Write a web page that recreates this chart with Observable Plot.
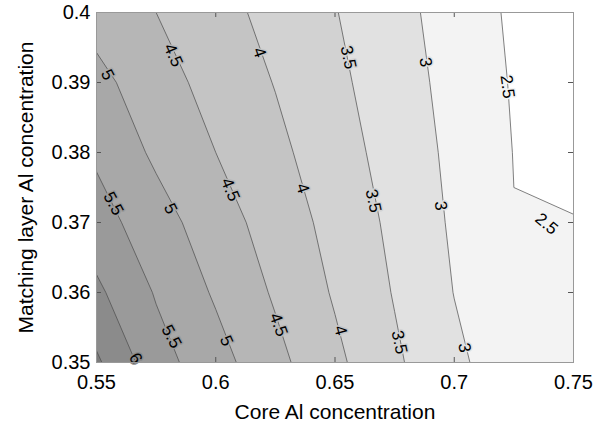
<!DOCTYPE html>
<html>
<head>
<meta charset="utf-8">
<script src="https://cdn.jsdelivr.net/npm/d3@7"></script>
<script src="https://cdn.jsdelivr.net/npm/@observablehq/plot@0.6"></script>
<style>
  html, body { margin: 0; padding: 0; background: white; }
  #chart { width: 605px; height: 424px; }
</style>
</head>
<body>
<div id="chart"></div>
<script>
// Grid sample positions (Core Al concentration = x, Matching layer Al concentration = y)
const xCols = [0.55, 0.575, 0.6, 0.625, 0.65, 0.675, 0.7, 0.725, 0.75];
const yRows = [0.35, 0.36, 0.37, 0.38, 0.39, 0.40];

// Values, one row per y (bottom to top)
const z035 = [6.58, 5.70, 5.19, 4.64, 4.11, 3.58, 3.10, 2.72, 2.60];
const z036 = [6.10, 5.46, 4.94, 4.44, 3.95, 3.47, 2.99, 2.72, 2.58];
const z037 = [5.71, 5.21, 4.73, 4.28, 3.84, 3.39, 2.93, 2.51, 2.52];
const z038 = [5.42, 4.91, 4.50, 4.12, 3.72, 3.30, 2.89, 2.49, 2.35];
const z039 = [5.15, 4.70, 4.33, 3.98, 3.61, 3.23, 2.84, 2.46, 2.30];
const z040 = [4.80, 4.50, 4.17, 3.85, 3.52, 3.16, 2.79, 2.42, 2.22];

// Contour levels and band shades
const levels = [2.5, 3, 3.5, 4, 4.5, 5, 5.5, 6, 6.5];
const bandColors = ["#f3f3f3", "#e1e1e1", "#d2d2d2", "#c4c4c4", "#b6b6b6", "#a8a8a8", "#9a9a9a", "#8b8b8b", "#7b7b7b"];

// Contour labels
const labelLevel = [4.5, 4, 3.5, 3, 2.5, 5, 5.5, 5, 4.5, 4, 3.5, 3, 2.5, 6, 5.5, 5, 4.5, 4, 3.5, 3];
const labelX = [0.5822, 0.6183, 0.6556, 0.6880, 0.7223, 0.5546, 0.5571, 0.5810, 0.6061, 0.6364, 0.6661, 0.6943, 0.7387, 0.5664, 0.5814, 0.6045, 0.6263, 0.6523, 0.6770, 0.7043];
const labelY = [0.3939, 0.3943, 0.3936, 0.3929, 0.3894, 0.3911, 0.3727, 0.3720, 0.3747, 0.3749, 0.3731, 0.3724, 0.3698, 0.3506, 0.3537, 0.3531, 0.3554, 0.3546, 0.3529, 0.3521];
const labelAngle = [66, 71, 78, 82, 82, 63, 62, 64, 68, 72, 78, 83, 40, 60, 62, 66, 70, 75, 78, 80];

// Axis ticks
const xTicks = [0.55, 0.6, 0.65, 0.7, 0.75];
const xTickLabels = ["0.55", "0.6", "0.65", "0.7", "0.75"];
const yTicks = [0.35, 0.36, 0.37, 0.38, 0.39, 0.4];
const yTickLabels = ["0.35", "0.36", "0.37", "0.38", "0.39", "0.4"];

const xLabel = "Core Al concentration";
const yLabel = "Matching layer Al concentration";

// Build tables for the library
const values = [...z035, ...z036, ...z037, ...z038, ...z039, ...z040];
const dxStep = xCols[1] - xCols[0];
const dyStep = yRows[1] - yRows[0];
const labels = labelLevel.map((l, i) => ({level: l, text: String(l), x: labelX[i], y: labelY[i], angle: labelAngle[i]}));

const font = "'Liberation Sans', Arial, Helvetica, sans-serif";

const chart = Plot.plot({
  width: 605,
  height: 424,
  marginLeft: 96,
  marginRight: 32,
  marginTop: 12,
  marginBottom: 62,
  style: {fontFamily: font, fontSize: "20px", background: "white", color: "black", overflow: "visible"},
  x: {domain: [xCols[0], xCols[xCols.length - 1]], ticks: xTicks, tickFormat: d => xTickLabels[xTicks.indexOf(d)], tickSize: 0, tickPadding: 12, label: null},
  y: {domain: [yRows[0], yRows[yRows.length - 1]], ticks: yTicks, tickFormat: d => yTickLabels[yTicks.indexOf(d)], tickSize: 0, tickPadding: 6, label: null},
  color: {type: "ordinal", domain: levels, range: bandColors},
  marks: [
    Plot.contour(values, {
      width: xCols.length,
      height: yRows.length,
      x1: xCols[0] - dxStep / 2,
      x2: xCols[xCols.length - 1] + dxStep / 2,
      y1: yRows[0] - dyStep / 2,
      y2: yRows[yRows.length - 1] + dyStep / 2,
      fill: Plot.identity,
      thresholds: levels,
      stroke: "#4a4a4a",
      strokeWidth: 0.7,
      clip: true
    }),
    Plot.text(labels, {
      x: "x", y: "y", text: "text", rotate: "angle",
      fontSize: 17, fill: "black",
      stroke: "level", strokeWidth: 3, paintOrder: "stroke"
    }),
    Plot.ruleX(xTicks, {insetTop: 345, stroke: "#555"}),
    Plot.ruleX(xTicks, {insetBottom: 345, stroke: "#555"}),
    Plot.ruleY(yTicks, {insetRight: 472, stroke: "#555"}),
    Plot.ruleY(yTicks, {insetLeft: 472, stroke: "#555"}),
    Plot.frame({stroke: "#999"}),
    Plot.text([xLabel], {frameAnchor: "bottom", dy: 50, fontSize: 21, fill: "black", textAnchor: "middle", lineAnchor: "middle"}),
    Plot.text([yLabel], {frameAnchor: "left", rotate: -90, dx: -70, fontSize: 21, fill: "black", textAnchor: "middle", lineAnchor: "middle"})
  ]
});
document.getElementById("chart").appendChild(chart);
</script>
</body>
</html>
